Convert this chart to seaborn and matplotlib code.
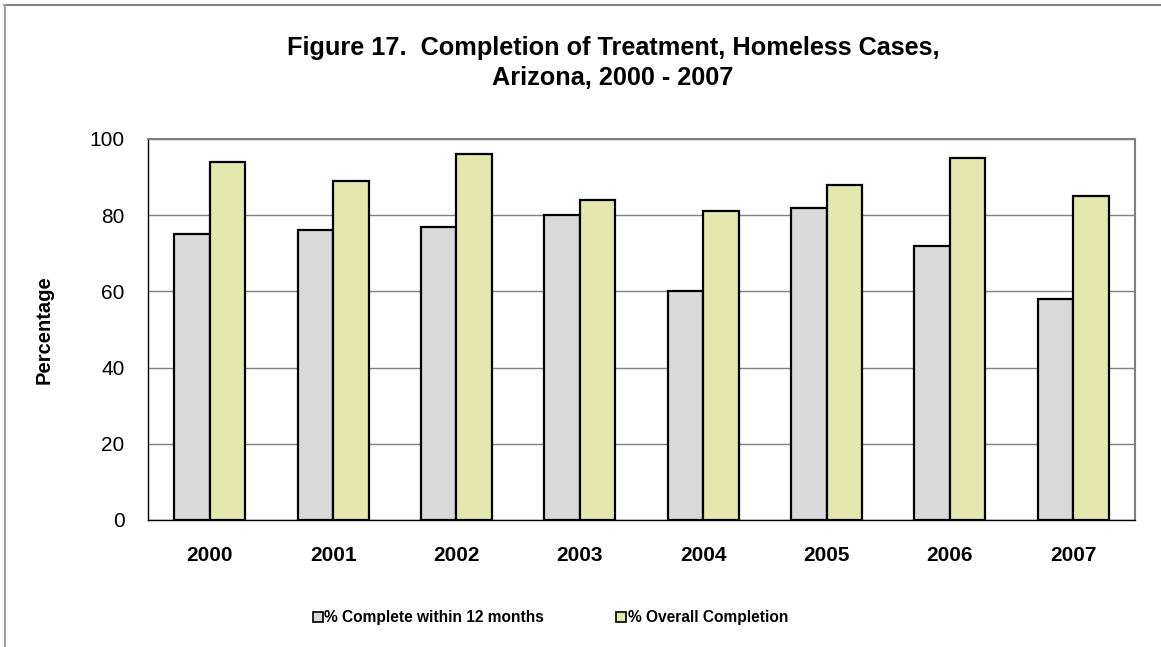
import pandas as pd
import numpy as np
import matplotlib
matplotlib.use("Agg")
import matplotlib.pyplot as plt
import seaborn as sns
from matplotlib.patches import Patch
from matplotlib.lines import Line2D

years = ['2000', '2001', '2002', '2003', '2004', '2005', '2006', '2007']
within_12 = [75, 76, 77, 80, 60, 82, 72, 58]
overall = [94, 89, 96, 84, 81, 88, 95, 85]
series_names = ['% Complete within 12 months', '% Overall Completion']
colors = ['#D9D9D9', '#E4E8AF']

df = pd.DataFrame({
    'year': years * 2,
    'value': within_12 + overall,
    'series': [series_names[0]] * len(years) + [series_names[1]] * len(years),
})

sns.set_style('white')
plt.rcParams['font.family'] = ['Liberation Sans', 'DejaVu Sans']
plt.rcParams['text.color'] = 'black'
plt.rcParams['axes.labelcolor'] = 'black'
plt.rcParams['xtick.color'] = 'black'
plt.rcParams['ytick.color'] = 'black'

fig = plt.figure(figsize=(11.61, 6.47), dpi=100)
ax = fig.add_axes([0.1275, 0.1963, 0.8501, 0.5889])

sns.barplot(data=df, x='year', y='value', hue='series', palette=colors,
            saturation=1, width=0.575, edgecolor='black', linewidth=1.6,
            ax=ax, legend=False, zorder=3)

ax.set_ylim(0, 100)
ax.set_xlim(-0.5, len(years) - 0.5)
ax.set_yticks(range(0, 101, 20))
ax.yaxis.grid(True, color='#808080', linewidth=1.0, zorder=0)
ax.set_axisbelow(True)
ax.tick_params(axis='y', labelsize=15, length=0, pad=17)
ax.tick_params(axis='x', labelsize=15, length=0, pad=19)
for lbl in ax.get_xticklabels():
    lbl.set_fontweight('bold')
ax.set_xlabel('')
ax.set_ylabel('Percentage', fontsize=14.5, fontweight='bold', labelpad=26)

for side in ['left', 'bottom']:
    ax.spines[side].set_color('black')
    ax.spines[side].set_linewidth(1.0)
for side in ['top', 'right']:
    ax.spines[side].set_color('#808080')
    ax.spines[side].set_linewidth(1.5)

fig.text(0.528, 0.903, 'Figure 17.  Completion of Treatment, Homeless Cases,\nArizona, 2000 - 2007',
         ha='center', va='center', fontsize=18.2, fontweight='bold', linespacing=1.3)

handles = [Patch(facecolor=c, edgecolor='black', linewidth=1.2) for c in colors]
leg = fig.legend(handles, series_names, loc='center', bbox_to_anchor=(0.474, 0.045),
                 ncol=2, frameon=False, handlelength=0.65, handleheight=0.65,
                 handletextpad=0.1, columnspacing=4.6,
                 prop={'size': 11.2, 'weight': 'bold'})

# outer chart border (top and left only, rest is cropped)
fig.add_artist(Line2D([0.0035, 1.0], [0.992, 0.992], transform=fig.transFigure,
                      color='#808080', linewidth=1.5))
fig.add_artist(Line2D([0.0045, 0.0045], [0.0, 0.992], transform=fig.transFigure,
                      color='#A0A0A0', linewidth=1.5))

plt.savefig('out.png', dpi=100)
